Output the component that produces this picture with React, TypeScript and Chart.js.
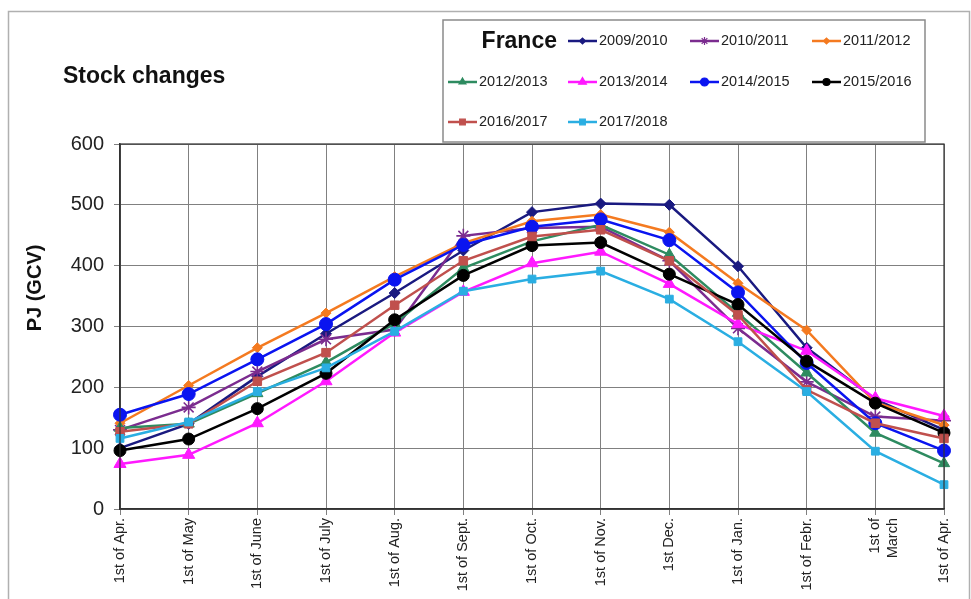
import React, { useEffect, useRef } from 'react';
import { Chart, registerables } from 'chart.js';
import { drawPoint } from 'chart.js/helpers';

Chart.register(...registerables);

const categories: (string | string[])[] = [
  '1st of Apr.', '1st of May', '1st of June', '1st of July', '1st of Aug.', '1st of Sept.',
  '1st of Oct.', '1st of Nov.', '1st Dec.', '1st of Jan.', '1st of Febr.', ['1st of', 'March'], '1st of Apr.',
];

const seasons = ['2009/2010', '2010/2011', '2011/2012', '2012/2013', '2013/2014', '2014/2015', '2015/2016', '2016/2017', '2017/2018'];

const s0910 = [100, 140, 218, 288, 355, 425, 488, 502, 500, 399, 265, 180, 130];
const s1011 = [130, 167, 226, 279, 295, 449, 462, 464, 408, 297, 209, 152, 145];
const s1112 = [141, 203, 265, 322, 382, 437, 473, 484, 455, 371, 294, 175, 138];
const s1213 = [133, 140, 190, 241, 305, 396, 440, 467, 418, 322, 224, 125, 75];
const s1314 = [74, 89, 141, 210, 290, 357, 404, 423, 370, 304, 260, 182, 153];
const s1415 = [155, 189, 246, 304, 377, 434, 464, 476, 442, 356, 240, 141, 96];
const s1516 = [96, 115, 165, 223, 311, 384, 433, 438, 386, 336, 243, 174, 125];
const s1617 = [127, 140, 210, 257, 335, 408, 448, 459, 408, 319, 196, 141, 116];
const s1718 = [116, 143, 193, 232, 292, 358, 378, 391, 345, 275, 193, 95, 40];

const seriesValues = [s0910, s1011, s1112, s1213, s1314, s1415, s1516, s1617, s1718];

const yTicks = [0, 100, 200, 300, 400, 500, 600];

const colors = ['#1a1a80', '#7b2c8f', '#f47a20', '#2e8b60', '#ff19ff', '#0a14f0', '#000000', '#c0504d', '#2aaee2'];
const pointStyles = ['rectRot', 'star', 'rectRot', 'triangle', 'triangle', 'circle', 'circle', 'rect', 'rect'];
const pointRadii = [5.5, 7, 5, 6.5, 7, 6.5, 6, 6, 5.5];
const legendRadii = [3, 4, 3, 4, 4.5, 4, 3.5, 4, 4];

const FONT = "Arial, 'Liberation Sans', Helvetica, sans-serif";

const decorPlugin = {
  id: 'decor',
  beforeDraw(chart: any) {
    const ctx = chart.ctx;
    ctx.save();
    ctx.fillStyle = '#ffffff';
    ctx.fillRect(0, 0, chart.width, chart.height);
    ctx.strokeStyle = '#b0b0b0';
    ctx.lineWidth = 1.5;
    ctx.strokeRect(8.5, 11.5, 961, 620);
    ctx.restore();
  },
  afterDraw(chart: any) {
    const ctx = chart.ctx;
    const { left, top, right, bottom } = chart.chartArea;
    ctx.save();
    ctx.strokeStyle = '#333';
    ctx.lineWidth = 1.2;
    ctx.strokeRect(left, top, right - left, bottom - top);

    ctx.fillStyle = '#111';
    ctx.font = `bold 23px ${FONT}`;
    ctx.textAlign = 'left';
    ctx.textBaseline = 'alphabetic';
    ctx.fillText('Stock changes', 63, 83);

    ctx.save();
    ctx.translate(35, 288);
    ctx.rotate(-Math.PI / 2);
    ctx.font = `bold 20px ${FONT}`;
    ctx.textAlign = 'center';
    ctx.textBaseline = 'middle';
    ctx.fillText('PJ (GCV)', 0, 0);
    ctx.restore();

    ctx.fillStyle = '#ffffff';
    ctx.fillRect(443, 20, 482, 122);
    ctx.strokeStyle = '#8a8a8a';
    ctx.lineWidth = 1.5;
    ctx.strokeRect(443, 20, 482, 122);

    ctx.fillStyle = '#111';
    ctx.font = `bold 23px ${FONT}`;
    ctx.textAlign = 'right';
    ctx.textBaseline = 'alphabetic';
    ctx.fillText('France', 557, 48);

    const colX = [448, 568, 690, 812];
    const rowY = [41, 82, 122];
    seasons.forEach((name, i) => {
      const slot = i + 1;
      const x = colX[slot % 4];
      const y = rowY[Math.floor(slot / 4)];
      ctx.strokeStyle = colors[i];
      ctx.fillStyle = colors[i];
      ctx.lineWidth = 2.5;
      ctx.beginPath();
      ctx.moveTo(x, y);
      ctx.lineTo(x + 29, y);
      ctx.stroke();
      ctx.lineWidth = 1.2;
      drawPoint(ctx, { pointStyle: pointStyles[i], radius: legendRadii[i], rotation: 0, borderWidth: 1.2 } as any, x + 14.5, y);
      ctx.fillStyle = '#222';
      ctx.font = `14.5px ${FONT}`;
      ctx.textAlign = 'left';
      ctx.textBaseline = 'middle';
      ctx.fillText(name, x + 31, y);
    });
    ctx.restore();
  },
};

export default function App() {
  const ref = useRef<HTMLCanvasElement>(null);
  useEffect(() => {
    if (!ref.current) return;
    const chart = new Chart(ref.current, {
      type: 'line',
      data: {
        labels: categories,
        datasets: seasons.map((name, i) => ({
          label: name,
          data: seriesValues[i],
          borderColor: colors[i],
          backgroundColor: colors[i],
          borderWidth: 2.5,
          pointStyle: pointStyles[i] as any,
          pointRadius: pointRadii[i],
          pointBorderColor: colors[i],
          pointBackgroundColor: colors[i],
          pointBorderWidth: pointStyles[i] === 'star' ? 1.6 : 1,
          tension: 0,
          order: seasons.length - i,
        })),
      },
      options: {
        animation: false,
        responsive: false,
        devicePixelRatio: 1,
        layout: { padding: { top: 144, right: 27, left: 0, bottom: 0 } },
        plugins: {
          legend: { display: false },
          tooltip: { enabled: false },
          title: { display: false },
        },
        scales: {
          x: {
            type: 'category',
            offset: false,
            grid: { color: '#808080', lineWidth: 1, tickLength: 6, drawTicks: true },
            border: { color: '#333', width: 1.5 },
            ticks: {
              color: '#222',
              font: { family: FONT, size: 14.5 },
              minRotation: 90,
              maxRotation: 90,
              padding: 3,
              autoSkip: false,
            },
            afterFit(s: any) { s.height = 90; },
          },
          y: {
            min: yTicks[0],
            max: yTicks[yTicks.length - 1],
            afterBuildTicks(s: any) { s.ticks = yTicks.map((v) => ({ value: v })); },
            grid: { color: '#808080', lineWidth: 1, tickLength: 6, drawTicks: true },
            border: { color: '#333', width: 1.5 },
            ticks: {
              color: '#222',
              font: { family: FONT, size: 20 },
              padding: 10,
            },
            afterFit(s: any) { s.width = 120; },
          },
        },
      },
      plugins: [decorPlugin],
    });
    return () => chart.destroy();
  }, []);
  return (
    <div style={{ position: 'fixed', left: 0, top: 0, width: 971, height: 599, background: '#fff' }}>
      <canvas ref={ref} width={971} height={599} style={{ display: 'block' }} />
    </div>
  );
}
